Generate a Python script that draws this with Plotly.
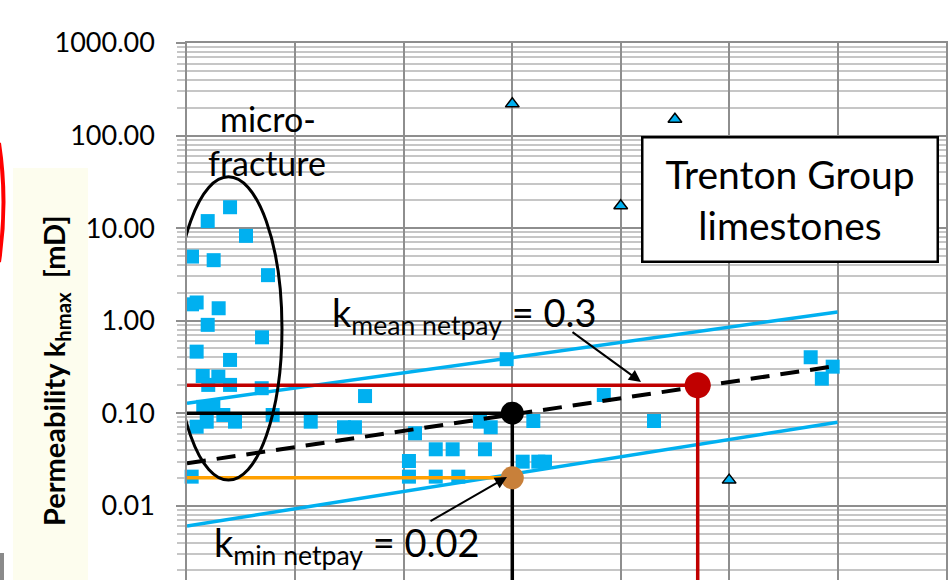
import plotly.graph_objects as go

# ---------------- data ----------------
# core-plug measurements (blue squares)
sq_x = [0.397, 0.191, 0.544, 0.046, 0.246, 0.747, 0.046, 0.089, 0.292, 0.191,
        0.692, 0.089, 0.397, 0.145, 0.289, 0.196, 0.397, 0.689, 0.150, 0.243,
        0.335, 0.443, 0.182, 0.089, 0.790, 0.043,
        1.141, 1.448, 1.549, 1.642, 2.047, 2.047, 2.103, 2.294, 2.450, 2.294,
        2.502, 2.702, 2.801, 2.748, 2.948, 3.096, 3.194, 3.240, 3.302,
        3.844, 4.307, 5.752, 5.955, 5.855]
sq_y = [16.8, 11.9, 8.24, 4.92, 4.50, 3.10, 1.50, 1.57, 1.36, 0.90,
        0.66, 0.462, 0.376, 0.252, 0.248, 0.202, 0.202, 0.186, 0.117, 0.117,
        0.0955, 0.0809, 0.0809, 0.0714, 0.0955, 0.0206,
        0.0809, 0.0704, 0.0704, 0.153, 0.0304, 0.0206, 0.0606, 0.0407, 0.0407, 0.0206,
        0.0206, 0.0809, 0.0704, 0.0407, 0.383, 0.0299, 0.0823, 0.0299, 0.0299,
        0.157, 0.0823, 0.402, 0.318, 0.236]

# triangles
tri_x = [3.0, 4.5, 4.0, 5.0]
tri_y = [220.0, 150.0, 17.4, 0.0189]

# envelope lines and trend
upper_x = [0.0, 6.0]
upper_y = [0.128, 1.24]
lower_x = [0.0, 6.0]
lower_y = [0.00603, 0.0797]
trend_x = [0.0, 5.93]
trend_y = [0.0287, 0.316]

# reference levels
mean_x = [0.0, 4.71, 4.71]
mean_y = [0.2, 0.2, 0.0005]
mid_x = [0.0, 3.0, 3.0]
mid_y = [0.1, 0.1, 0.0005]
min_x = [0.0, 3.0]
min_y = [0.02, 0.02]

ell_x = [-0.111, 0.876]
ell_y = [0.0189, 35.8]

y_tick_vals = [0.01, 0.1, 1, 10, 100, 1000]
y_tick_text = ["0.01", "0.10", "1.00", "10.00", "100.00", "1000.00"]

BLUE = "#00B0F0"
RED = "#C00000"
ORANGE = "#FFA000"
BROWN = "#C8803A"
GRID = "#8E8E8E"
MINOR = "#C6C6C6"
FONT = "Lato"

fig = go.Figure()

fig.add_trace(go.Scatter(x=sq_x, y=sq_y, mode="markers",
                         marker=dict(symbol="square", size=14, color=BLUE,
                                     line=dict(width=0)), cliponaxis=False))
fig.add_trace(go.Scatter(x=upper_x, y=upper_y, mode="lines",
                         line=dict(color=BLUE, width=3.5)))
fig.add_trace(go.Scatter(x=lower_x, y=lower_y, mode="lines",
                         line=dict(color=BLUE, width=3.5)))
fig.add_trace(go.Scatter(x=trend_x, y=trend_y, mode="lines",
                         line=dict(color="black", width=4, dash="19px,11px")))
fig.add_trace(go.Scatter(x=mean_x, y=mean_y, mode="lines",
                         line=dict(color=RED, width=3.5)))
fig.add_trace(go.Scatter(x=mid_x, y=mid_y, mode="lines",
                         line=dict(color="black", width=3.5)))
fig.add_trace(go.Scatter(x=min_x, y=min_y, mode="lines",
                         line=dict(color=ORANGE, width=3.5)))
fig.add_trace(go.Scatter(x=[mean_x[1]], y=[mean_y[1]], mode="markers",
                         marker=dict(size=26, color=RED)))
fig.add_trace(go.Scatter(x=[mid_x[1]], y=[mid_y[1]], mode="markers",
                         marker=dict(size=23, color="black")))
fig.add_trace(go.Scatter(x=[min_x[1]], y=[min_y[1]], mode="markers",
                         marker=dict(size=23, color=BROWN)))
fig.add_trace(go.Scatter(x=tri_x, y=tri_y, mode="markers",
                         marker=dict(symbol="triangle-up", size=12, color=BLUE,
                                     line=dict(color="black", width=1.5))))

# micro-fracture ellipse
fig.add_shape(type="circle", xref="x", yref="y",
              x0=ell_x[0], x1=ell_x[1], y0=ell_y[0], y1=ell_y[1],
              line=dict(color="black", width=3))


def px(xp):
    return (xp - 187) / 759


def py(yp):
    return (580 - yp) / 537


# page decorations (slide background)
fig.add_shape(type="rect", xref="paper", yref="paper", layer="below",
              x0=px(13), x1=px(88), y0=-0.01, y1=py(168),
              fillcolor="#FDFDEE", line=dict(width=0))
fig.add_shape(type="path", xref="paper", yref="paper",
              path="M %f,%f Q %f,%f %f,%f" % (px(-1), py(143), px(8), py(202), px(-1), py(262)),
              line=dict(color="#FF0000", width=4))
fig.add_shape(type="rect", xref="paper", yref="paper",
              x0=px(0), x1=px(4), y0=-0.01, y1=py(553),
              fillcolor="#8A8A8A", line=dict(width=0))

ann = []
ann.append(dict(text="<b>Permeability k<sub>hmax</sub>  [mD]</b>", textangle=-90,
                x=px(55), y=py(371), xref="paper", yref="paper", showarrow=False,
                xanchor="center", yanchor="middle",
                font=dict(family=FONT, size=29, color="black")))
ann.append(dict(text="micro-", x=px(268), y=py(118), xref="paper", yref="paper",
                showarrow=False, xanchor="center", yanchor="middle",
                font=dict(family=FONT, size=34, color="black")))
ann.append(dict(text="fracture", x=px(267), y=py(162), xref="paper", yref="paper",
                showarrow=False, xanchor="center", yanchor="middle",
                font=dict(family=FONT, size=34, color="black")))
ann.append(dict(text="Trenton Group<br>limestones", x=px(790), y=py(200),
                xref="paper", yref="paper", showarrow=False,
                xanchor="center", yanchor="middle", width=291, height=120,
                bordercolor="black", borderwidth=2.5, bgcolor="white",
                font=dict(family=FONT, size=39, color="black")))
ann.append(dict(text="k<sub>mean netpay</sub> = 0.3", x=px(464), y=py(315),
                xref="paper", yref="paper", showarrow=False,
                xanchor="center", yanchor="middle",
                font=dict(family=FONT, size=38, color="black")))
ann.append(dict(text="k<sub>min netpay</sub> = 0.02", x=px(347), y=py(545),
                xref="paper", yref="paper", showarrow=False,
                xanchor="center", yanchor="middle",
                font=dict(family=FONT, size=38, color="black")))
ann.append(dict(text="", x=px(641), y=py(382), xref="paper", yref="paper",
                showarrow=True, ax=571 - 641, ay=331 - 382, axref="pixel", ayref="pixel",
                arrowhead=2, arrowsize=1.2, arrowwidth=2, arrowcolor="black"))
ann.append(dict(text="", x=px(507), y=py(477), xref="paper", yref="paper",
                showarrow=True, ax=429 - 507, ay=522 - 477, axref="pixel", ayref="pixel",
                arrowhead=2, arrowsize=1.2, arrowwidth=2, arrowcolor="black"))

fig.update_layout(
    width=948, height=580,
    margin=dict(l=187, r=2, t=43, b=0, pad=0),
    paper_bgcolor="white", plot_bgcolor="white",
    showlegend=False,
    annotations=ann,
    font=dict(family=FONT, color="black"),
    xaxis=dict(range=[0, 7], dtick=1, showgrid=True, gridcolor=GRID, gridwidth=1.5,
               showticklabels=False, ticks="", zeroline=False,
               showline=True, linecolor=GRID, linewidth=1.5, mirror=True),
    yaxis=dict(type="log", range=[-2.803, 3.0], tickvals=y_tick_vals, ticktext=y_tick_text,
               showgrid=True, gridcolor=GRID, gridwidth=1.5,
               ticks="outside", ticklen=9, tickcolor=GRID, tickwidth=1.5,
               ticklabelstandoff=16,
               tickfont=dict(family=FONT, size=27, color="black"),
               showline=True, linecolor=GRID, linewidth=1.5, mirror=True, zeroline=False,
               minor=dict(dtick="D1", showgrid=True, gridcolor=MINOR, gridwidth=1.5,
                          ticks="outside", ticklen=8, tickcolor=MINOR, tickwidth=1.5)),
)

fig.write_html("out.html")
